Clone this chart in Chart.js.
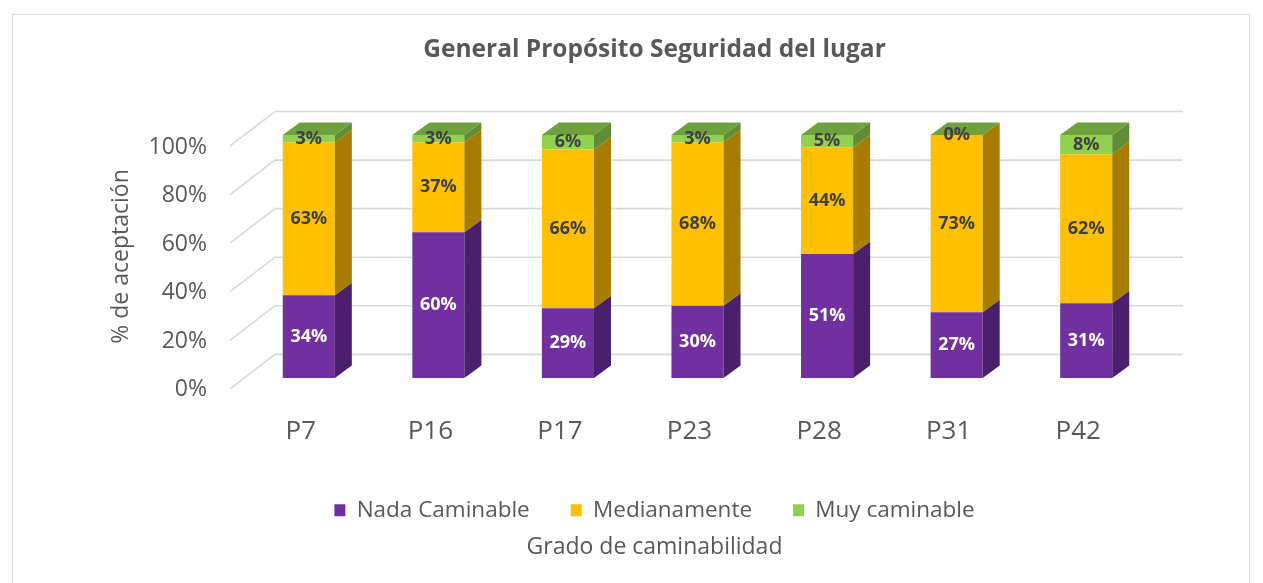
<!DOCTYPE html>
<html lang="es">
<head>
<meta charset="UTF-8">
<title>General Propósito Seguridad del lugar</title>
<script src="https://cdn.jsdelivr.net/npm/chart.js"></script>
<style>
  html, body { margin: 0; padding: 0; background: #fff; }
  .wrap { width: 1263px; height: 583px; position: relative; }
</style>
</head>
<body>
<div class="wrap"><canvas id="chart"></canvas></div>
<script>
const categories = ['P7', 'P16', 'P17', 'P23', 'P28', 'P31', 'P42'];
const nadaCaminable = [34, 60, 29, 30, 51, 27, 31];
const medianamente = [63, 37, 66, 68, 44, 73, 62];
const muyCaminable = [3, 3, 6, 3, 5, 0, 8];
const yTicks = [0, 20, 40, 60, 80, 100];

const rawSeries = [nadaCaminable, medianamente, muyCaminable];
// 100% stacked: every column is scaled to its own total
const totals = categories.map((c, i) => rawSeries.reduce((s, arr) => s + arr[i], 0));
const share = arr => arr.map((v, i) => v / totals[i] * 100);

const FONT = '"Open Sans", sans-serif';
const TEXT = '#595959';
const depth = { dx: 17, dy: -12.5 };
const sideColors = ['#4A1F6B', '#A67D00', '#5F8C35'];
const topColor = '#6FA03E';
const labelColors = ['#ffffff', '#404040', '#404040'];

const box3d = {
  id: 'box3d',
  beforeDraw(chart) {
    const ctx = chart.ctx;
    ctx.save();
    ctx.fillStyle = '#fff';
    ctx.fillRect(0, 0, chart.width, chart.height);
    ctx.strokeStyle = '#d9d9d9';
    ctx.lineWidth = 1;
    ctx.strokeRect(12.5, 14.5, 1237, 600);
    ctx.restore();
  },
  beforeDatasetsDraw(chart) {
    const { ctx, chartArea } = chart;
    const y = chart.scales.y;
    const fx = chartArea.left - 14, bx = chartArea.left + 31, rx = chartArea.right + 32;
    ctx.save();
    ctx.strokeStyle = '#d9d9d9';
    ctx.lineWidth = 1.6;
    yTicks.forEach(v => {
      const p = y.getPixelForValue(v);
      ctx.beginPath();
      ctx.moveTo(fx, p + 11);
      ctx.lineTo(bx, p - 23.5);
      ctx.lineTo(rx, p - 23.5);
      ctx.stroke();
    });
    ctx.restore();
  },
  afterDatasetsDraw(chart) {
    const ctx = chart.ctx;
    const n = chart.data.datasets.length;
    ctx.save();
    for (let d = 0; d < n; d++) {
      chart.getDatasetMeta(d).data.forEach(bar => {
        const { x, y, base, width } = bar.getProps(['x', 'y', 'base', 'width'], true);
        const xr = x + width / 2, xl = x - width / 2;
        ctx.fillStyle = sideColors[d];
        ctx.beginPath();
        ctx.moveTo(xr, y);
        ctx.lineTo(xr + depth.dx, y + depth.dy);
        ctx.lineTo(xr + depth.dx, base + depth.dy);
        ctx.lineTo(xr, base);
        ctx.closePath();
        ctx.fill();
        if (d === n - 1) {
          ctx.fillStyle = topColor;
          ctx.beginPath();
          ctx.moveTo(xl, y);
          ctx.lineTo(xl + depth.dx, y + depth.dy);
          ctx.lineTo(xr + depth.dx, y + depth.dy);
          ctx.lineTo(xr, y);
          ctx.closePath();
          ctx.fill();
        }
      });
    }
    ctx.font = 'bold 18px ' + FONT;
    ctx.textAlign = 'center';
    ctx.textBaseline = 'middle';
    for (let d = 0; d < n; d++) {
      chart.getDatasetMeta(d).data.forEach((bar, i) => {
        const { x, y, base } = bar.getProps(['x', 'y', 'base'], true);
        ctx.fillStyle = labelColors[d];
        ctx.fillText(rawSeries[d][i] + '%', x, (y + base) / 2);
      });
    }
    ctx.restore();
  }
};

new Chart(document.getElementById('chart'), {
  type: 'bar',
  data: {
    labels: categories,
    datasets: [
      { label: 'Nada Caminable', data: share(nadaCaminable), backgroundColor: '#7030A0', yAxisID: 'y' },
      { label: 'Medianamente', data: share(medianamente), backgroundColor: '#FFC000', yAxisID: 'y' },
      { label: 'Muy caminable', data: share(muyCaminable), backgroundColor: '#92D050', yAxisID: 'y' }
    ]
  },
  options: {
    responsive: true,
    maintainAspectRatio: false,
    animation: false,
    layout: { padding: { left: 46, right: 0, top: 0, bottom: 0 } },
    datasets: { bar: { categoryPercentage: 1, barPercentage: 0.402, borderWidth: 0 } },
    plugins: {
      title: {
        display: true,
        text: 'General Propósito Seguridad del lugar',
        color: TEXT,
        font: { family: FONT, size: 24.5, weight: 'bold' },
        padding: { top: 35, bottom: 70.6 }
      },
      subtitle: {
        display: true,
        position: 'bottom',
        text: 'Grado de caminabilidad',
        color: TEXT,
        font: { family: FONT, size: 23 },
        padding: { top: 2, bottom: 22 }
      },
      legend: {
        position: 'bottom',
        labels: {
          color: TEXT,
          font: { family: FONT, size: 22.5 },
          boxWidth: 11,
          boxHeight: 12,
          padding: 41
        }
      },
      tooltip: { enabled: false }
    },
    scales: {
      x: {
        stacked: true,
        grid: { display: false },
        border: { display: false },
        ticks: { color: TEXT, font: { family: FONT, size: 26 }, padding: 30, labelOffset: -8 },
        afterFit(s) { s.height = 80; }
      },
      y: {
        stacked: true,
        min: 0,
        max: 100,
        grid: { display: false, drawTicks: false },
        border: { display: false },
        ticks: {
          stepSize: 20,
          color: TEXT,
          font: { family: FONT, size: 23 },
          padding: 37,
          labelOffset: 12,
          callback: v => v + '%'
        },
        title: {
          display: true,
          text: '% de aceptación',
          color: TEXT,
          font: { family: FONT, size: 23 },
          padding: { top: 62, bottom: 0 }
        },
        afterFit(s) { s.width = 198; }
      },
      yRight: {
        position: 'right',
        display: true,
        grid: { display: false },
        border: { display: false },
        ticks: { display: false },
        afterFit(s) { s.width = 112; }
      }
    }
  },
  plugins: [box3d]
});
</script>
</body>
</html>
